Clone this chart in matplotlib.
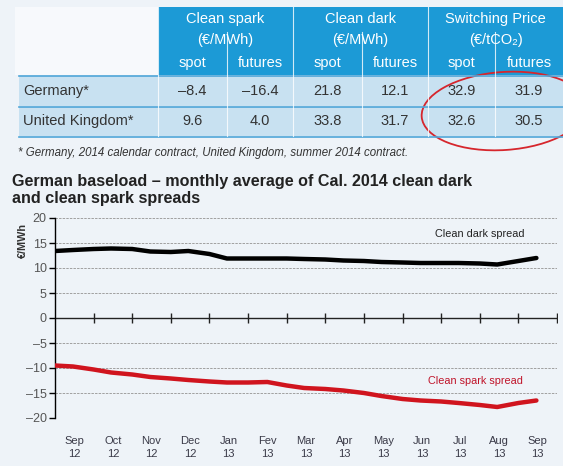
import numpy as np
import matplotlib.pyplot as plt
from matplotlib.patches import Rectangle, Ellipse

plt.rcParams["font.family"] = ["Liberation Sans", "DejaVu Sans"]

# datos de la tabla
groups = ["Clean spark", "Clean dark", "Switching Price"]
units = ["(€/MWh)", "(€/MWh)", "(€/tCO₂)"]
sub_cols = ["spot", "futures"]
countries = ["Germany*", "United Kingdom*"]
table_vals = [["–8.4", "–16.4", "21.8", "12.1", "32.9", "31.9"],
              ["9.6", "4.0", "33.8", "31.7", "32.6", "30.5"]]
footnote = "* Germany, 2014 calendar contract, United Kingdom, summer 2014 contract."

# datos del grafico (fecha, valor)
dates = ["2012-09-01", "2012-09-15", "2012-10-01", "2012-10-15", "2012-11-01", "2012-11-15",
         "2012-12-01", "2012-12-15", "2013-01-01", "2013-01-15", "2013-02-01", "2013-02-15",
         "2013-03-01", "2013-03-15", "2013-04-01", "2013-04-15", "2013-05-01", "2013-05-15",
         "2013-06-01", "2013-06-15", "2013-07-01", "2013-07-15", "2013-08-01", "2013-08-15",
         "2013-09-01", "2013-09-15"]
clean_dark = [13.4, 13.6, 13.8, 13.9, 13.8, 13.3, 13.2, 13.4, 12.8, 11.9, 11.9, 11.9,
              11.9, 11.8, 11.7, 11.5, 11.4, 11.2, 11.1, 11.0, 11.0, 11.0, 10.9, 10.7,
              11.4, 12.0]
clean_spark = [-9.5, -9.7, -10.3, -10.9, -11.3, -11.8, -12.1, -12.4, -12.7, -12.9, -12.9, -12.8,
               -13.5, -14.0, -14.2, -14.5, -15.0, -15.6, -16.2, -16.5, -16.7, -17.0, -17.4, -17.8,
               -17.0, -16.5]
months = ["Sep", "Oct", "Nov", "Dec", "Jan", "Fev", "Mar", "Apr", "May", "Jun", "Jul", "Aug", "Sep"]
years = ["12", "12", "12", "12", "13", "13", "13", "13", "13", "13", "13", "13", "13"]

bg = "#eef3f8"
blue = "#1c9ad6"
row_c = "#c8e1f1"
line_c = "#4fa6d8"
txt = "#333333"

# fechas -> posicion en meses (centro del mes = entero)
d = np.array(dates, dtype="datetime64[D]")
m0 = np.datetime64("2012-09", "M")
mon = d.astype("datetime64[M]")
days_in = ((mon + 1).astype("datetime64[D]") - mon.astype("datetime64[D]")).astype(int)
frac = (d - mon.astype("datetime64[D]")).astype(int) / days_in
xpos = (mon - m0).astype(int) + frac - 0.5

fig = plt.figure(figsize=(5.63, 4.66), dpi=100, facecolor=bg)

# ---- tabla en coordenadas de pixel ----
tb = fig.add_axes([0, 0, 1, 1])
tb.set_xlim(0, 563)
tb.set_ylim(466, 0)
tb.axis("off")

col_edges = [158, 227, 293, 362, 428, 495, 563]
tb.add_patch(Rectangle((15, 7), 143, 68, color="#f7f9fc", lw=0))
tb.add_patch(Rectangle((158, 7), 405, 68, color=blue, lw=0))
for r, (y0, y1) in enumerate([(76, 106), (107, 136)]):
    tb.add_patch(Rectangle((19, y0), 544, y1 - y0, color=row_c, lw=0))
for y in [75.5, 106.5, 136.5]:
    tb.plot([19, 563], [y, y], color=line_c, lw=1.2)
# separadores verticales
for i, x in enumerate(col_edges[:-1]):
    if i % 2 == 0:
        tb.plot([x, x], [7, 136], color="white", lw=0.8, alpha=0.8)
    else:
        tb.plot([x, x], [32, 136], color="white", lw=0.8, alpha=0.8)

for g, name in enumerate(groups):
    cx = (col_edges[2 * g] + col_edges[2 * g + 2]) / 2
    tb.text(cx, 19, name, ha="center", va="center", color="white", fontsize=10.5)
    tb.text(cx, 40, units[g], ha="center", va="center", color="white", fontsize=10.5)
    for k, s in enumerate(sub_cols):
        c = (col_edges[2 * g + k] + col_edges[2 * g + k + 1]) / 2
        tb.text(c, 63, s, ha="center", va="center", color="white", fontsize=10.5)

for r, name in enumerate(countries):
    yc = 91 + r * 30
    tb.text(23, yc, name, ha="left", va="center", color=txt, fontsize=10.5)
    for k, v in enumerate(table_vals[r]):
        c = (col_edges[k] + col_edges[k + 1]) / 2
        tb.text(c, yc, v, ha="center", va="center", color=txt, fontsize=10.5)

tb.text(18, 153, footnote, ha="left", va="center", color=txt, fontsize=8.3, style="italic")
tb.add_patch(Ellipse((504, 111), 165, 78, angle=-4, fill=False, edgecolor="#d6262d", lw=1.3))

tb.text(12, 190, "German baseload – monthly average of Cal. 2014 clean dark\nand clean spark spreads",
        ha="left", va="center", color="#222222", fontsize=11.6, fontweight="bold", linespacing=1.15)

# ---- grafico ----
ax = fig.add_axes([55 / 563, 1 - 418 / 466, 502 / 563, 200 / 466])
ax.set_facecolor("none")
ax.set_xlim(-0.5, 12.5)
ax.set_ylim(-20, 20)
for y in [-20, -15, -10, -5, 5, 10, 15, 20]:
    ax.axhline(y, color="#a0a0a0", lw=0.7, ls=(0, (2.5, 1.2)), zorder=1)
ax.axhline(0, color="#222222", lw=1.0, zorder=2)
ax.plot(np.arange(0.5, 13, 1), np.zeros(13), ls="none", marker="|", ms=7, mew=1.0,
        color="#222222", zorder=2)

ax.plot(xpos, clean_dark, color="black", lw=3.2, solid_capstyle="round", zorder=3)
ax.plot(xpos, clean_spark, color="#d0141e", lw=3.2, solid_capstyle="round", zorder=3)

ax.text(10.5, 16.8, "Clean dark spread", ha="center", va="center", fontsize=7.8,
        color="#222222")
ax.text(10.4, -12.6, "Clean spark spread", ha="center", va="center", fontsize=7.8,
        color="#c0142a")

for s in ["top", "right", "bottom"]:
    ax.spines[s].set_visible(False)
ax.spines["left"].set_linewidth(1.0)
ax.set_yticks([-20, -15, -10, -5, 0, 5, 10, 15, 20])
ax.set_yticklabels(["–20", "–15", "–10", "–5", "0", "5", "10", "15", "20"])
ax.tick_params(axis="y", length=4, width=1.0, labelsize=9, labelcolor="#555555", pad=2)
ax.set_xticks(np.arange(13))
ax.set_xticklabels([f"{m}\n{y}" for m, y in zip(months, years)], linespacing=1.35)
ax.tick_params(axis="x", length=0, labelsize=8, labelcolor="#3a3a48", pad=13)
ax.text(-0.064, 0.89, "€/MWh", transform=ax.transAxes, rotation=90, ha="center", va="center",
        fontsize=7.8, fontweight="bold", color="#333333")

fig.savefig("out.png", dpi=100, facecolor=bg)
